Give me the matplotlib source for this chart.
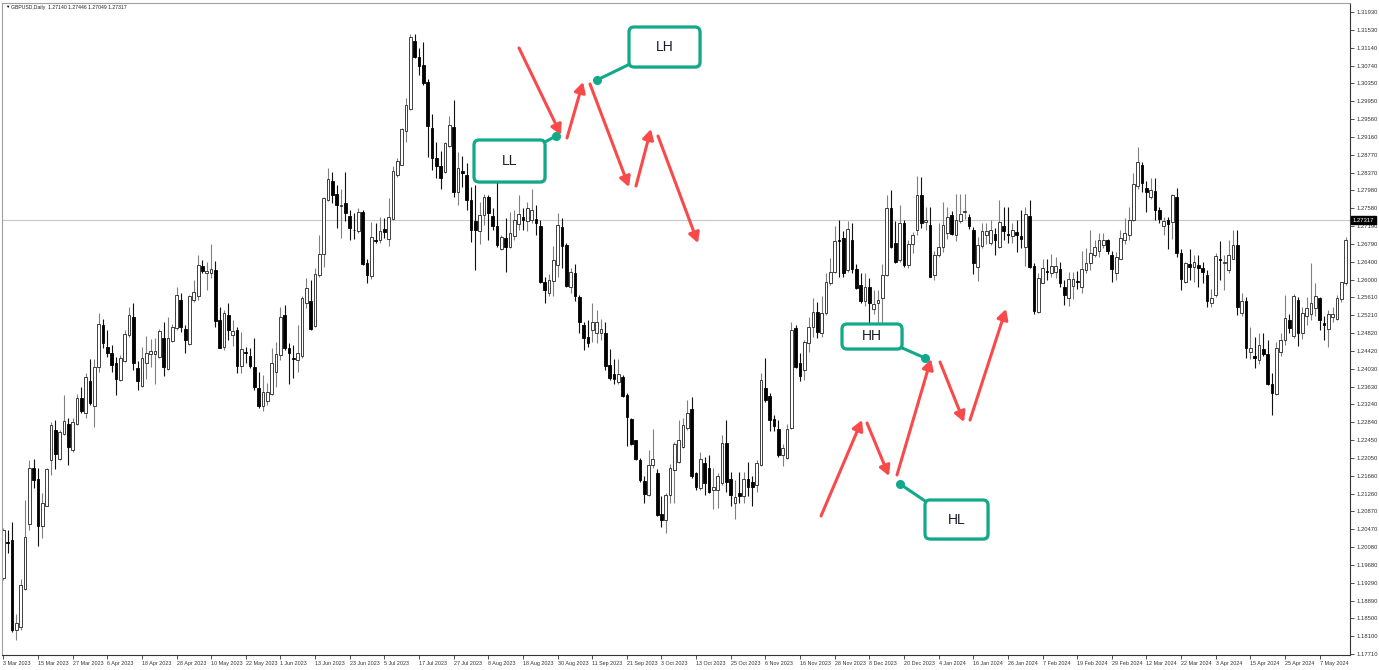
import matplotlib
matplotlib.use('Agg')
import matplotlib.pyplot as plt
from matplotlib.patches import FancyBboxPatch
from matplotlib.lines import Line2D
from matplotlib.transforms import IdentityTransform
import numpy as np

plt.rcParams['font.family'] = ['Liberation Sans', 'DejaVu Sans']

# GBPUSD daily candles, 3 Mar 2023 .. mid May 2024
opens = [
    1.1939, 1.2020, 1.2023, 1.1824, 1.1830, 1.1916, 1.2060, 1.2182, 1.2158, 1.2054,
    1.2099, 1.2201, 1.2267, 1.2202, 1.2258, 1.2280, 1.2223, 1.2280, 1.2339, 1.2305,
    1.2376, 1.2320, 1.2407, 1.2500, 1.2452, 1.2438, 1.2415, 1.2378, 1.2421, 1.2477,
    1.2517, 1.2404, 1.2365, 1.2416, 1.2435, 1.2435, 1.2429, 1.2470, 1.2403, 1.2465,
    1.2494, 1.2556, 1.2490, 1.2458, 1.2556, 1.2565, 1.2631, 1.2614, 1.2614, 1.2621,
    1.2511, 1.2450, 1.2523, 1.2478, 1.2489, 1.2408, 1.2439, 1.2431, 1.2407, 1.2360,
    1.2321, 1.2331, 1.2346, 1.2395, 1.2433, 1.2523, 1.2448, 1.2426, 1.2422, 1.2430,
    1.2548, 1.2553, 1.2498, 1.2610, 1.2658, 1.2777, 1.2819, 1.2789, 1.2763, 1.2769,
    1.2742, 1.2711, 1.2708, 1.2751, 1.2636, 1.2609, 1.2688, 1.2688, 1.2712, 1.2690,
    1.2735, 1.2831, 1.2855, 1.2929, 1.2978, 1.3129, 1.3094, 1.3076, 1.3037, 1.2937,
    1.2869, 1.2851, 1.2838, 1.2897, 1.2939, 1.2795, 1.2840, 1.2832, 1.2777, 1.2729,
    1.2707, 1.2744, 1.2784, 1.2741, 1.2718, 1.2668, 1.2692, 1.2672, 1.2697, 1.2724,
    1.2738, 1.2729, 1.2733, 1.2734, 1.2718, 1.2596, 1.2570, 1.2598, 1.2633, 1.2716,
    1.2677, 1.2585, 1.2616, 1.2561, 1.2500, 1.2473, 1.2489, 1.2483, 1.2483, 1.2481,
    1.2411, 1.2391, 1.2374, 1.2385, 1.2345, 1.2291, 1.2244, 1.2201, 1.2155, 1.2123,
    1.2190, 1.2173, 1.2081, 1.2068, 1.2123, 1.2179, 1.2197, 1.2229, 1.2271, 1.2313,
    1.2171, 1.2138, 1.2195, 1.2182, 1.2134, 1.2134, 1.2149, 1.2239, 1.2158, 1.2105,
    1.2127, 1.2121, 1.2158, 1.2153, 1.2145, 1.2190, 1.2360, 1.2343, 1.2291, 1.2269,
    1.2212, 1.2205, 1.2271, 1.2493, 1.2415, 1.2400, 1.2461, 1.2496, 1.2529, 1.2482,
    1.2526, 1.2592, 1.2618, 1.2688, 1.2692, 1.2622, 1.2687, 1.2623, 1.2589, 1.2552,
    1.2583, 1.2535, 1.2549, 1.2559, 1.2611, 1.2758, 1.2681, 1.2644, 1.2725, 1.2633,
    1.2680, 1.2710, 1.2788, 1.2727, 1.2722, 1.2611, 1.2655, 1.2673, 1.2703, 1.2744,
    1.2700, 1.2729, 1.2749, 1.2739, 1.2710, 1.2629, 1.2675, 1.2700, 1.2681, 1.2701,
    1.2673, 1.2718, 1.2701, 1.2696, 1.2705, 1.2696, 1.2673, 1.2741, 1.2631, 1.2529,
    1.2593, 1.2620, 1.2615, 1.2617, 1.2623, 1.2585, 1.2559, 1.2586, 1.2598, 1.2585,
    1.2622, 1.2638, 1.2655, 1.2663, 1.2678, 1.2687, 1.2655, 1.2614, 1.2647, 1.2688,
    1.2699, 1.2733, 1.2807, 1.2855, 1.2803, 1.2783, 1.2797, 1.2755, 1.2720, 1.2732,
    1.2728, 1.2783, 1.2659, 1.2596, 1.2635, 1.2628, 1.2633, 1.2626, 1.2611, 1.2549,
    1.2567, 1.2646, 1.2638, 1.2622, 1.2645, 1.2677, 1.2526, 1.2554, 1.2441, 1.2430,
    1.2423, 1.2447, 1.2436, 1.2369, 1.2347, 1.2441, 1.2467, 1.2511, 1.2476, 1.2555,
    1.2483, 1.2520, 1.2524, 1.2537, 1.2559, 1.2505, 1.2490, 1.2518, 1.2514, 1.2557,
    1.2592,
]
highs = [
    1.2050, 1.2046, 1.2064, 1.1860, 1.1938, 1.2113, 1.2200, 1.2202, 1.2182, 1.2127,
    1.2182, 1.2285, 1.2289, 1.2267, 1.2345, 1.2293, 1.2293, 1.2348, 1.2363, 1.2393,
    1.2424, 1.2424, 1.2527, 1.2514, 1.2489, 1.2455, 1.2429, 1.2433, 1.2489, 1.2540,
    1.2548, 1.2421, 1.2450, 1.2475, 1.2468, 1.2470, 1.2490, 1.2507, 1.2517, 1.2502,
    1.2584, 1.2570, 1.2500, 1.2566, 1.2599, 1.2655, 1.2644, 1.2640, 1.2680, 1.2642,
    1.2540, 1.2533, 1.2549, 1.2511, 1.2496, 1.2485, 1.2452, 1.2448, 1.2470, 1.2396,
    1.2389, 1.2371, 1.2448, 1.2463, 1.2540, 1.2545, 1.2459, 1.2455, 1.2500, 1.2565,
    1.2603, 1.2599, 1.2625, 1.2700, 1.2784, 1.2848, 1.2839, 1.2810, 1.2802, 1.2838,
    1.2754, 1.2747, 1.2758, 1.2754, 1.2647, 1.2728, 1.2725, 1.2740, 1.2736, 1.2782,
    1.2851, 1.2870, 1.2937, 1.3003, 1.3144, 1.3144, 1.3113, 1.3127, 1.3045, 1.2966,
    1.2906, 1.2885, 1.2906, 1.2963, 1.2998, 1.2883, 1.2874, 1.2858, 1.2806, 1.2810,
    1.2773, 1.2790, 1.2788, 1.2758, 1.2817, 1.2699, 1.2736, 1.2751, 1.2755, 1.2788,
    1.2758, 1.2773, 1.2800, 1.2766, 1.2732, 1.2607, 1.2613, 1.2675, 1.2747, 1.2736,
    1.2681, 1.2625, 1.2635, 1.2566, 1.2507, 1.2511, 1.2549, 1.2533, 1.2512, 1.2507,
    1.2446, 1.2424, 1.2424, 1.2389, 1.2349, 1.2293, 1.2245, 1.2205, 1.2165, 1.2223,
    1.2269, 1.2180, 1.2120, 1.2127, 1.2193, 1.2241, 1.2289, 1.2293, 1.2334, 1.2340,
    1.2175, 1.2219, 1.2208, 1.2212, 1.2182, 1.2173, 1.2256, 1.2290, 1.2175, 1.2157,
    1.2175, 1.2175, 1.2197, 1.2165, 1.2201, 1.2393, 1.2426, 1.2349, 1.2301, 1.2290,
    1.2236, 1.2281, 1.2507, 1.2500, 1.2437, 1.2467, 1.2518, 1.2559, 1.2551, 1.2563,
    1.2614, 1.2648, 1.2718, 1.2733, 1.2707, 1.2729, 1.2725, 1.2635, 1.2614, 1.2614,
    1.2603, 1.2577, 1.2577, 1.2635, 1.2788, 1.2799, 1.2729, 1.2766, 1.2733, 1.2688,
    1.2705, 1.2830, 1.2828, 1.2760, 1.2762, 1.2664, 1.2725, 1.2773, 1.2762, 1.2752,
    1.2790, 1.2790, 1.2790, 1.2746, 1.2716, 1.2694, 1.2725, 1.2725, 1.2733, 1.2714,
    1.2777, 1.2760, 1.2762, 1.2725, 1.2733, 1.2755, 1.2760, 1.2777, 1.2636, 1.2614,
    1.2645, 1.2645, 1.2657, 1.2651, 1.2640, 1.2600, 1.2618, 1.2618, 1.2620, 1.2664,
    1.2670, 1.2710, 1.2688, 1.2703, 1.2703, 1.2690, 1.2664, 1.2662, 1.2710, 1.2737,
    1.2762, 1.2836, 1.2893, 1.2860, 1.2818, 1.2825, 1.2825, 1.2760, 1.2740, 1.2740,
    1.2790, 1.2803, 1.2669, 1.2640, 1.2669, 1.2655, 1.2655, 1.2640, 1.2622, 1.2580,
    1.2660, 1.2686, 1.2655, 1.2688, 1.2710, 1.2710, 1.2570, 1.2562, 1.2496, 1.2473,
    1.2481, 1.2481, 1.2467, 1.2393, 1.2462, 1.2481, 1.2566, 1.2525, 1.2569, 1.2562,
    1.2540, 1.2562, 1.2636, 1.2592, 1.2562, 1.2520, 1.2532, 1.2540, 1.2566, 1.2596,
    1.2694,
]
lows = [
    1.1935, 1.1995, 1.1820, 1.1802, 1.1824, 1.1912, 1.2046, 1.2138, 1.2010, 1.2027,
    1.2098, 1.2167, 1.2180, 1.2201, 1.2256, 1.2190, 1.2219, 1.2278, 1.2304, 1.2293,
    1.2322, 1.2274, 1.2396, 1.2448, 1.2429, 1.2396, 1.2345, 1.2376, 1.2418, 1.2474,
    1.2401, 1.2356, 1.2363, 1.2381, 1.2407, 1.2369, 1.2426, 1.2387, 1.2401, 1.2463,
    1.2489, 1.2485, 1.2437, 1.2455, 1.2551, 1.2555, 1.2615, 1.2577, 1.2603, 1.2496,
    1.2448, 1.2444, 1.2466, 1.2454, 1.2393, 1.2393, 1.2415, 1.2404, 1.2356, 1.2315,
    1.2309, 1.2323, 1.2345, 1.2363, 1.2422, 1.2444, 1.2368, 1.2382, 1.2396, 1.2427,
    1.2537, 1.2489, 1.2496, 1.2607, 1.2629, 1.2774, 1.2771, 1.2715, 1.2692, 1.2729,
    1.2688, 1.2690, 1.2703, 1.2633, 1.2592, 1.2602, 1.2681, 1.2681, 1.2692, 1.2675,
    1.2732, 1.2828, 1.2854, 1.2906, 1.2976, 1.3090, 1.3053, 1.3031, 1.2872, 1.2843,
    1.2826, 1.2801, 1.2836, 1.2895, 1.2784, 1.2765, 1.2806, 1.2755, 1.2684, 1.2622,
    1.2679, 1.2721, 1.2688, 1.2710, 1.2673, 1.2666, 1.2618, 1.2670, 1.2687, 1.2710,
    1.2710, 1.2709, 1.2725, 1.2699, 1.2592, 1.2548, 1.2564, 1.2563, 1.2607, 1.2625,
    1.2585, 1.2570, 1.2552, 1.2483, 1.2444, 1.2452, 1.2463, 1.2461, 1.2467, 1.2399,
    1.2378, 1.2369, 1.2369, 1.2341, 1.2232, 1.2234, 1.2201, 1.2153, 1.2105, 1.2121,
    1.2182, 1.2077, 1.2053, 1.2038, 1.2105, 1.2106, 1.2195, 1.2227, 1.2267, 1.2162,
    1.2135, 1.2134, 1.2123, 1.2127, 1.2092, 1.2094, 1.2146, 1.2131, 1.2099, 1.2070,
    1.2105, 1.2106, 1.2120, 1.2098, 1.2131, 1.2188, 1.2330, 1.2264, 1.2264, 1.2208,
    1.2188, 1.2202, 1.2269, 1.2404, 1.2375, 1.2377, 1.2441, 1.2474, 1.2470, 1.2474,
    1.2522, 1.2589, 1.2616, 1.2607, 1.2606, 1.2618, 1.2614, 1.2579, 1.2548, 1.2541,
    1.2504, 1.2524, 1.2504, 1.2504, 1.2609, 1.2670, 1.2637, 1.2640, 1.2629, 1.2625,
    1.2660, 1.2700, 1.2714, 1.2710, 1.2605, 1.2599, 1.2650, 1.2662, 1.2690, 1.2698,
    1.2686, 1.2725, 1.2735, 1.2712, 1.2612, 1.2597, 1.2670, 1.2679, 1.2677, 1.2655,
    1.2670, 1.2688, 1.2681, 1.2681, 1.2662, 1.2670, 1.2631, 1.2627, 1.2524, 1.2527,
    1.2592, 1.2600, 1.2605, 1.2603, 1.2585, 1.2544, 1.2541, 1.2557, 1.2580, 1.2570,
    1.2615, 1.2621, 1.2650, 1.2650, 1.2670, 1.2656, 1.2595, 1.2600, 1.2645, 1.2680,
    1.2688, 1.2730, 1.2800, 1.2795, 1.2749, 1.2778, 1.2732, 1.2725, 1.2700, 1.2668,
    1.2690, 1.2650, 1.2577, 1.2592, 1.2600, 1.2595, 1.2585, 1.2592, 1.2540, 1.2540,
    1.2562, 1.2600, 1.2577, 1.2614, 1.2645, 1.2522, 1.2520, 1.2427, 1.2425, 1.2405,
    1.2413, 1.2430, 1.2366, 1.2300, 1.2345, 1.2430, 1.2455, 1.2481, 1.2472, 1.2454,
    1.2469, 1.2500, 1.2511, 1.2520, 1.2489, 1.2466, 1.2450, 1.2507, 1.2511, 1.2550,
    1.2588,
]
closes = [
    1.2046, 1.2016, 1.1824, 1.1839, 1.1924, 1.2031, 1.2182, 1.2156, 1.2054, 1.2106,
    1.2180, 1.2278, 1.2215, 1.2263, 1.2287, 1.2230, 1.2284, 1.2339, 1.2309, 1.2385,
    1.2328, 1.2406, 1.2502, 1.2460, 1.2438, 1.2411, 1.2381, 1.2426, 1.2480, 1.2522,
    1.2415, 1.2376, 1.2426, 1.2438, 1.2443, 1.2443, 1.2487, 1.2407, 1.2470, 1.2496,
    1.2566, 1.2496, 1.2466, 1.2564, 1.2573, 1.2632, 1.2620, 1.2620, 1.2624, 1.2509,
    1.2448, 1.2527, 1.2489, 1.2486, 1.2408, 1.2447, 1.2437, 1.2410, 1.2363, 1.2321,
    1.2352, 1.2351, 1.2415, 1.2435, 1.2518, 1.2448, 1.2437, 1.2424, 1.2437, 1.2560,
    1.2581, 1.2491, 1.2612, 1.2658, 1.2782, 1.2823, 1.2788, 1.2765, 1.2766, 1.2747,
    1.2715, 1.2710, 1.2749, 1.2634, 1.2611, 1.2695, 1.2686, 1.2708, 1.2705, 1.2740,
    1.2841, 1.2863, 1.2934, 1.2988, 1.3138, 1.3094, 1.3074, 1.3035, 1.2941, 1.2869,
    1.2853, 1.2826, 1.2902, 1.2943, 1.2795, 1.2847, 1.2836, 1.2777, 1.2710, 1.2710,
    1.2744, 1.2784, 1.2747, 1.2718, 1.2677, 1.2694, 1.2673, 1.2704, 1.2732, 1.2746,
    1.2733, 1.2758, 1.2754, 1.2725, 1.2596, 1.2577, 1.2599, 1.2644, 1.2721, 1.2675,
    1.2586, 1.2618, 1.2563, 1.2507, 1.2470, 1.2461, 1.2507, 1.2507, 1.2490, 1.2408,
    1.2382, 1.2380, 1.2391, 1.2343, 1.2295, 1.2236, 1.2202, 1.2157, 1.2126, 1.2190,
    1.2202, 1.2079, 1.2068, 1.2123, 1.2182, 1.2236, 1.2246, 1.2278, 1.2304, 1.2165,
    1.2140, 1.2202, 1.2149, 1.2131, 1.2142, 1.2166, 1.2238, 1.2153, 1.2123, 1.2118,
    1.2120, 1.2158, 1.2142, 1.2142, 1.2194, 1.2378, 1.2333, 1.2290, 1.2275, 1.2212,
    1.2227, 1.2269, 1.2489, 1.2406, 1.2386, 1.2463, 1.2496, 1.2529, 1.2485, 1.2526,
    1.2594, 1.2618, 1.2685, 1.2685, 1.2616, 1.2712, 1.2623, 1.2581, 1.2552, 1.2585,
    1.2548, 1.2546, 1.2555, 1.2611, 1.2758, 1.2673, 1.2640, 1.2725, 1.2633, 1.2680,
    1.2699, 1.2788, 1.2725, 1.2733, 1.2607, 1.2655, 1.2673, 1.2722, 1.2740, 1.2702,
    1.2733, 1.2746, 1.2752, 1.2718, 1.2638, 1.2677, 1.2709, 1.2707, 1.2710, 1.2688,
    1.2727, 1.2709, 1.2698, 1.2710, 1.2699, 1.2690, 1.2746, 1.2629, 1.2531, 1.2603,
    1.2626, 1.2618, 1.2631, 1.2631, 1.2592, 1.2566, 1.2601, 1.2601, 1.2596, 1.2623,
    1.2638, 1.2660, 1.2672, 1.2687, 1.2689, 1.2663, 1.2624, 1.2651, 1.2692, 1.2704,
    1.2733, 1.2812, 1.2860, 1.2814, 1.2794, 1.2799, 1.2755, 1.2734, 1.2731, 1.2723,
    1.2788, 1.2659, 1.2601, 1.2638, 1.2628, 1.2640, 1.2626, 1.2618, 1.2552, 1.2560,
    1.2652, 1.2643, 1.2640, 1.2655, 1.2678, 1.2540, 1.2554, 1.2449, 1.2449, 1.2427,
    1.2455, 1.2436, 1.2369, 1.2349, 1.2449, 1.2467, 1.2515, 1.2493, 1.2564, 1.2483,
    1.2527, 1.2537, 1.2548, 1.2564, 1.2511, 1.2500, 1.2525, 1.2525, 1.2559, 1.2594,
    1.2688,
]

# x axis labels, one every 8 bars
date_labels = ['3 Mar 2023', '15 Mar 2023', '27 Mar 2023', '6 Apr 2023', '18 Apr 2023',
               '28 Apr 2023', '10 May 2023', '22 May 2023', '1 Jun 2023', '13 Jun 2023',
               '23 Jun 2023', '5 Jul 2023', '17 Jul 2023', '27 Jul 2023', '8 Aug 2023',
               '18 Aug 2023', '30 Aug 2023', '11 Sep 2023', '21 Sep 2023', '3 Oct 2023',
               '13 Oct 2023', '25 Oct 2023', '6 Nov 2023', '16 Nov 2023', '28 Nov 2023',
               '8 Dec 2023', '20 Dec 2023', '4 Jan 2024', '16 Jan 2024', '26 Jan 2024',
               '7 Feb 2024', '19 Feb 2024', '29 Feb 2024', '12 Mar 2024', '22 Mar 2024',
               '3 Apr 2024', '15 Apr 2024', '25 Apr 2024', '7 May 2024']
label_step = 8

price_ticks = [1.31930, 1.31530, 1.31140, 1.30740, 1.30350, 1.29950, 1.29560, 1.29160,
               1.28770, 1.28370, 1.27980, 1.27580, 1.27190, 1.26790, 1.26400, 1.26000,
               1.25610, 1.25210, 1.24820, 1.24420, 1.24030, 1.23630, 1.23240, 1.22840,
               1.22450, 1.22050, 1.21660, 1.21260, 1.20870, 1.20470, 1.20080, 1.19680,
               1.19290, 1.18890, 1.18500, 1.18100, 1.17710]
bid_price = 1.27317
header = 'GBPUSD,Daily  1.27140 1.27446 1.27049 1.27317'

W, H = 1379, 670
TEAL = '#12a88a'
RED = '#f84a4a'

fig = plt.figure(figsize=(W / 100, H / 100), dpi=100)
fig.patch.set_facecolor('white')
ax = fig.add_axes([2 / W, 15 / H, 1348 / W, 652 / H])

o = np.array(opens)
hi = np.array(highs)
lo = np.array(lows)
c = np.array(closes)
x = np.arange(len(c))
up = c >= o

# wicks then bodies
ax.vlines(x[up], lo[up], hi[up], color='#808080', lw=0.8, zorder=1)
ax.vlines(x[~up], lo[~up], hi[~up], color='#111111', lw=0.8, zorder=1)
body_lo = np.minimum(o, c)
body_h = np.maximum(np.abs(c - o), 0.00004)
ax.bar(x[up], body_h[up], bottom=body_lo[up], width=0.62, color='white',
       edgecolor='#222222', linewidth=0.6, zorder=2)
ax.bar(x[~up], body_h[~up], bottom=body_lo[~up], width=0.62, color='black',
       edgecolor='black', linewidth=0.6, zorder=2)

# bid line
ax.axhline(bid_price, color='#c8c8c8', lw=0.8, zorder=0)

ax.set_xlim(-0.3, 311.0)
ax.set_ylim(1.17689, 1.32129)

ax.yaxis.tick_right()
ax.set_yticks(price_ticks)
ax.set_yticklabels(['%.5f' % p for p in price_ticks])
ax.tick_params(axis='y', length=3, width=0.6, colors='#333333', labelsize=4.2, pad=2)

ax.set_xticks(np.arange(len(date_labels)) * label_step)
ax.set_xticklabels(date_labels, ha='left')
ax.tick_params(axis='x', length=3, width=0.6, colors='#333333', labelsize=3.9, pad=1.5)

for side in ['left', 'top']:
    ax.spines[side].set_color('#a0a0a0')
    ax.spines[side].set_linewidth(0.8)
for side in ['right', 'bottom']:
    ax.spines[side].set_color('#333333')
    ax.spines[side].set_linewidth(0.8)

ax.text(1.002, bid_price, '%.5f' % bid_price, transform=ax.get_yaxis_transform(),
        ha='left', va='center', color='white', fontsize=4.2, zorder=5,
        bbox=dict(boxstyle='square,pad=0.25', facecolor='black', edgecolor='black'))

fig.text(5 / W, 1 - 7 / H, '\u25bc', fontsize=3.2, color='black', ha='left', va='center')
fig.text(11 / W, 1 - 7 / H, header, fontsize=3.7, color='#222222', ha='left', va='center')

# annotations, in screenshot pixels (top-left origin)
def fp(px, py):
    return (px, H - py)

red_arrows = [((519, 48), (561, 135)), ((567, 138), (583, 82)), ((590, 84), (629, 187)),
              ((636, 186), (651, 129)), ((658, 136), (698, 243)),
              ((821, 516), (862, 420)), ((867, 423), (889, 476)), ((897, 475), (931, 359)),
              ((940, 362), (964, 422)), ((970, 420), (1006, 309))]
for (x0, y0), (x1, y1) in red_arrows:
    ax.annotate('', xy=fp(x1, y1), xytext=fp(x0, y0), xycoords='figure pixels',
                textcoords='figure pixels', annotation_clip=False,
                arrowprops=dict(arrowstyle='-|>,head_length=0.6,head_width=0.33',
                                color=RED, lw=2.2, mutation_scale=10,
                                shrinkA=0, shrinkB=0))

boxes = [('LL', 474, 140, 545, 182), ('LH', 629, 27, 700, 67),
         ('HH', 842, 324, 902, 349), ('HL', 925, 500, 988, 539)]
connectors = [((543, 143), (556, 136)), ((630, 64), (597, 80)),
              ((900, 347), (925, 358)), ((928, 503), (900, 484))]

for (x0, y0), (x1, y1) in connectors:
    fig.add_artist(Line2D([x0, x1], [H - y0, H - y1], transform=IdentityTransform(),
                          color=TEAL, lw=2.2, solid_capstyle='round', zorder=3))
    fig.add_artist(Line2D([x1], [H - y1], transform=IdentityTransform(), marker='o',
                          ms=5.5, color=TEAL, zorder=3))

for label, x0, y0, x1, y1 in boxes:
    shadow = FancyBboxPatch((x0 + 2, H - y1 - 2), x1 - x0, y1 - y0,
                            boxstyle='round,pad=0,rounding_size=5',
                            transform=IdentityTransform(), facecolor='black',
                            alpha=0.12, edgecolor='none', zorder=3)
    fig.add_artist(shadow)
    box = FancyBboxPatch((x0, H - y1), x1 - x0, y1 - y0,
                         boxstyle='round,pad=0,rounding_size=5',
                         transform=IdentityTransform(), facecolor='white',
                         edgecolor=TEAL, linewidth=2.3, zorder=4)
    fig.add_artist(box)
    fig.text((x0 + x1) / 2 / W, 1 - (y0 + y1) / 2 / H, label, ha='center', va='center',
             fontsize=10, color='#1c1c2a', zorder=5)

fig.savefig('out.png', dpi=100, facecolor='white')
